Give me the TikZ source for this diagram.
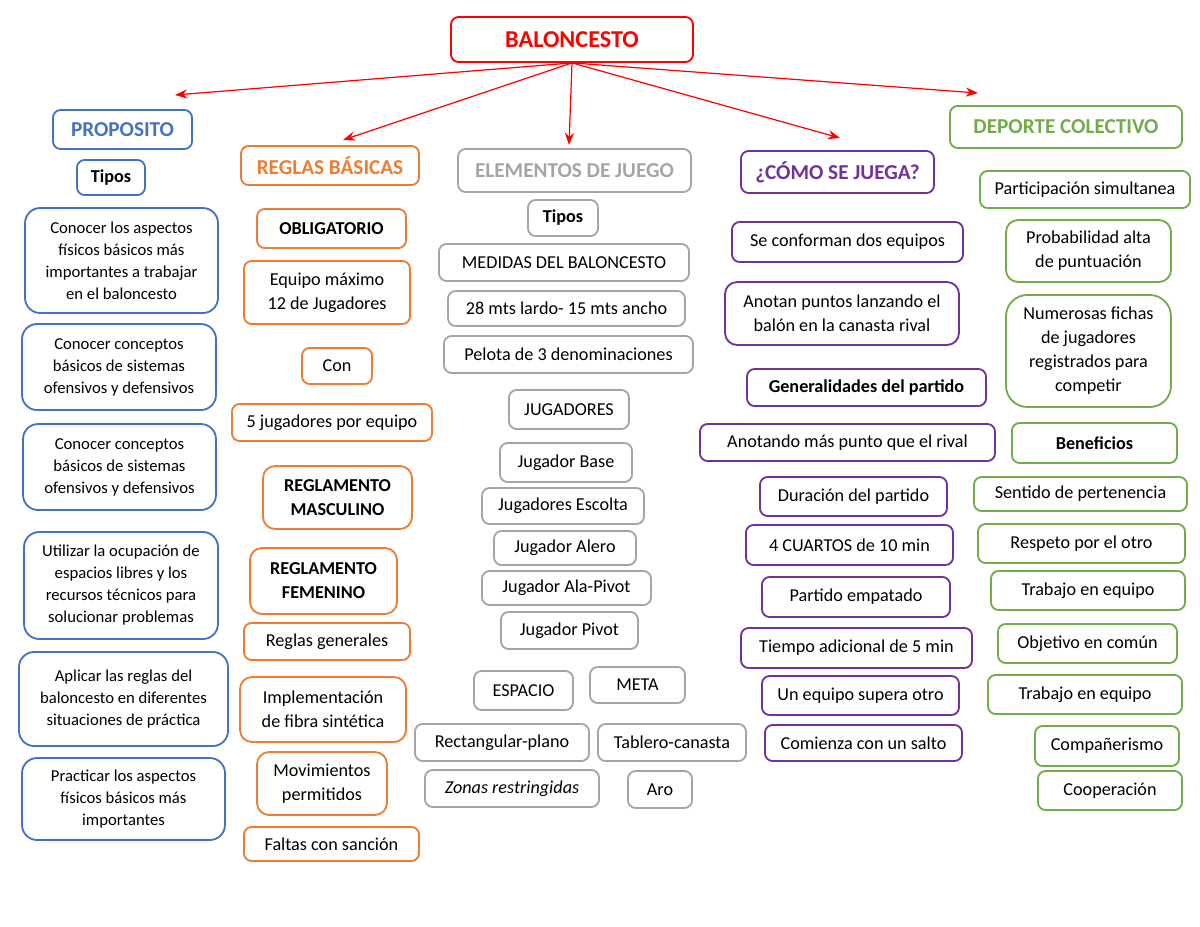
\documentclass[tikz,border=0pt]{standalone}
\usepackage{fontspec}
\setmainfont{Carlito}
\usetikzlibrary{arrows.meta}

\definecolor{balred}{HTML}{FF0000}
\definecolor{propblue}{HTML}{4472C4}
\definecolor{reglorange}{HTML}{ED7D31}
\definecolor{elemgrey}{HTML}{A5A5A5}
\definecolor{comopurple}{HTML}{7030A0}
\definecolor{depgreen}{HTML}{70AD47}

\tikzset{
  box/.style={draw, rounded corners=5pt, line width=1.2pt, align=center, inner sep=1pt,
    font=\fontsize{12}{15.8}\selectfont},
  boldbox/.style={font=\fontsize{12}{15.8}\selectfont\bfseries},
  wh/.style 2 args={minimum width=#1*0.66pt, minimum height=#2*0.66pt},
  title/.style={box, font=\fontsize{14}{17}\selectfont\bfseries},
  bluebox/.style={box, draw=propblue, rounded corners=10pt, font=\fontsize{11}{14.5}\selectfont},
  orangebox/.style={box, draw=reglorange},
  greybox/.style={box, draw=elemgrey},
  purplebox/.style={box, draw=comopurple},
  greenbox/.style={box, draw=depgreen},
  link/.style={balred, line width=0.8pt, -{Stealth[length=8pt,width=6pt]}}
}

\begin{document}
\begin{tikzpicture}[x=0.66pt, y=-0.66pt]
      \useasboundingbox (0,0) rectangle (1200,927);

      \node[title, draw=balred, text=balred, wh={242}{45}, font=\fontsize{16}{19}\selectfont\bfseries] (bal) at (572,39.5) {BALONCESTO};

      \coordinate (aProp) at (175,95);
      \coordinate (aRegl) at (343,140);
      \coordinate (aElem) at (569,145);
      \coordinate (aComo) at (840,138);
      \coordinate (aDep) at (978,93);

      \node[title, draw=propblue, text=propblue, wh={139}{39}] (prop) at (122.5,129.5) {PROPOSITO};
      \node[bluebox, rounded corners=5pt, wh={68}{35}, boldbox] (ptipos) at (111,177.5) {Tipos};
      \node[bluebox, wh={193}{105}] (p1) at (121.5,260.5) {Conocer los aspectos\\físicos básicos más\\importantes a trabajar\\en el baloncesto};
      \node[bluebox, wh={194}{86}] (p2) at (119,367) {Conocer conceptos\\básicos de sistemas\\ofensivos y defensivos};
      \node[bluebox, wh={193}{86}] (p3) at (119.5,467) {Conocer conceptos\\básicos de sistemas\\ofensivos y defensivos};
      \node[bluebox, wh={194}{107}] (p4) at (121,585.5) {Utilizar la ocupación de\\espacios libres y los\\recursos técnicos para\\solucionar problemas};
      \node[bluebox, wh={209}{94}] (p5) at (123.5,699) {Aplicar las reglas del\\baloncesto en diferentes\\situaciones de práctica};
      \node[bluebox, wh={203}{82}] (p6) at (123.5,799) {Practicar los aspectos\\físicos básicos más\\importantes};

      \node[title, draw=reglorange, text=reglorange, wh={178}{39}] (regl) at (330,165.5) {REGLAS BÁSICAS};
      \node[orangebox, wh={149}{39}, boldbox] (r1) at (331.5,228.5) {OBLIGATORIO};
      \node[orangebox, wh={166}{63}] (r2) at (327,292.5) {Equipo máximo\\12 de Jugadores};
      \node[orangebox, wh={70}{36}] (r3) at (337,366) {Con};
      \node[orangebox, wh={200}{37}] (r4) at (332,422.5) {5 jugadores por equipo};
      \node[orangebox, rounded corners=8pt, wh={149}{63}, boldbox] (r5) at (337.5,497.5) {REGLAMENTO\\MASCULINO};
      \node[orangebox, rounded corners=8pt, wh={147}{66}, boldbox] (r6) at (323.5,581) {REGLAMENTO\\FEMENINO};
      \node[orangebox, wh={166}{37}] (r7) at (327,641.5) {Reglas generales};
      \node[orangebox, rounded corners=8pt, wh={166}{65}] (r8) at (323,709.5) {Implementación\\de fibra sintética};
      \node[orangebox, rounded corners=8pt, wh={130}{63}] (r9) at (322,783.5) {Movimientos\\permitidos};
      \node[orangebox, wh={175}{34}] (r10) at (331.5,844) {Faltas con sanción};

      \node[title, draw=elemgrey, text=elemgrey, wh={233}{43}] (elem) at (574.5,170.5) {ELEMENTOS DE JUEGO};
      \node[greybox, wh={70}{36}, boldbox] (e1) at (563,218) {Tipos};
      \node[greybox, wh={250}{37}] (e2) at (564,262.5) {MEDIDAS DEL BALONCESTO};
      \node[greybox, wh={237}{35}] (e3) at (566.5,308.5) {28 mts lardo- 15 mts ancho};
      \node[greybox, wh={249}{37}] (e4) at (568.5,354.5) {Pelota de 3 denominaciones};
      \node[greybox, wh={120}{39}] (e5) at (569,409.5) {JUGADORES};
      \node[greybox, wh={132}{39}] (e6) at (566,462.5) {Jugador Base};
      \node[greybox, wh={162}{36}] (e7) at (563,506) {Jugadores Escolta};
      \node[greybox, wh={142}{34}] (e8) at (565,548) {Jugador Alero};
      \node[greybox, wh={169}{34}] (e9) at (566.5,588) {Jugador Ala-Pivot};
      \node[greybox, wh={137}{37}] (e10) at (569.5,630.5) {Jugador Pivot};
      \node[greybox, wh={99}{39}] (e11) at (523.5,690.5) {ESPACIO};
      \node[greybox, wh={95}{36}] (e12) at (637.5,685) {META};
      \node[greybox, wh={174}{37}] (e13) at (502,742.5) {Rectangular-plano};
      \node[greybox, wh={148}{37}] (e14) at (672,742.5) {Tablero-canasta};
      \node[greybox, wh={174}{37}, font=\fontsize{12}{15.8}\selectfont\itshape] (e15) at (512,788.5) {Zonas restringidas};
      \node[greybox, wh={64}{37}] (e16) at (660,789.5) {Aro};

      \node[title, draw=comopurple, text=comopurple, wh={193}{42}] (como) at (837.5,172) {¿CÓMO SE JUEGA?};
      \node[purplebox, wh={231}{40}] (c1) at (847.5,242) {Se conforman dos equipos};
      \node[purplebox, rounded corners=8pt, wh={234}{63}] (c2) at (842,313.5) {Anotan puntos lanzando el\\balón en la canasta rival};
      \node[purplebox, wh={239}{37}, boldbox] (c3) at (866.5,387.5) {Generalidades del partido};
      \node[purplebox, wh={295}{37}] (c4) at (847.5,442.5) {Anotando más punto que el rival};
      \node[purplebox, wh={187}{39}] (c5) at (853.5,496.5) {Duración del partido};
      \node[purplebox, wh={207}{40}] (c6) at (849.5,545) {4 CUARTOS de 10 min};
      \node[purplebox, wh={188}{40}] (c7) at (856,597) {Partido empatado};
      \node[purplebox, wh={231}{40}] (c8) at (856.5,648) {Tiempo adicional de 5 min};
      \node[purplebox, wh={197}{39}] (c9) at (860.5,695.5) {Un equipo supera otro};
      \node[purplebox, wh={197}{36}] (c10) at (863.5,743) {Comienza con un salto};

      \node[title, draw=depgreen, text=depgreen, wh={232}{42}] (dep) at (1066,127) {DEPORTE COLECTIVO};
      \node[greenbox, wh={210}{37}] (d1) at (1085,189.5) {Participación simultanea};
      \node[greenbox, rounded corners=8pt, wh={165}{62}] (d2) at (1088.5,251) {Probabilidad alta\\de puntuación};
      \node[greenbox, rounded corners=14pt, wh={165}{112}] (d3) at (1088.5,351) {Numerosas fichas\\de jugadores\\registrados para\\competir};
      \node[greenbox, wh={165}{40}, boldbox] (d4) at (1094.5,443) {Beneficios};
      \node[greenbox, wh={213}{34}] (d5) at (1080.5,494) {Sentido de pertenencia};
      \node[greenbox, wh={207}{39}] (d6) at (1081.5,543.5) {Respeto por el otro};
      \node[greenbox, wh={194}{39}] (d7) at (1088,590.5) {Trabajo en equipo};
      \node[greenbox, wh={179}{39}] (d8) at (1087.5,643.5) {Objetivo en común};
      \node[greenbox, wh={194}{39}] (d9) at (1085,694.5) {Trabajo en equipo};
      \node[greenbox, wh={144}{40}] (d10) at (1107,746) {Compañerismo};
      \node[greenbox, wh={144}{39}] (d11) at (1110,790.5) {Cooperación};

      \path [link] (bal.south) edge (aProp);
      \path [link] (bal.south) edge (aRegl);
      \path [link] (bal.south) edge (aElem);
      \path [link] (bal.south) edge (aComo);
      \path [link] (bal.south) edge (aDep);
    \end{tikzpicture}
\end{document}
